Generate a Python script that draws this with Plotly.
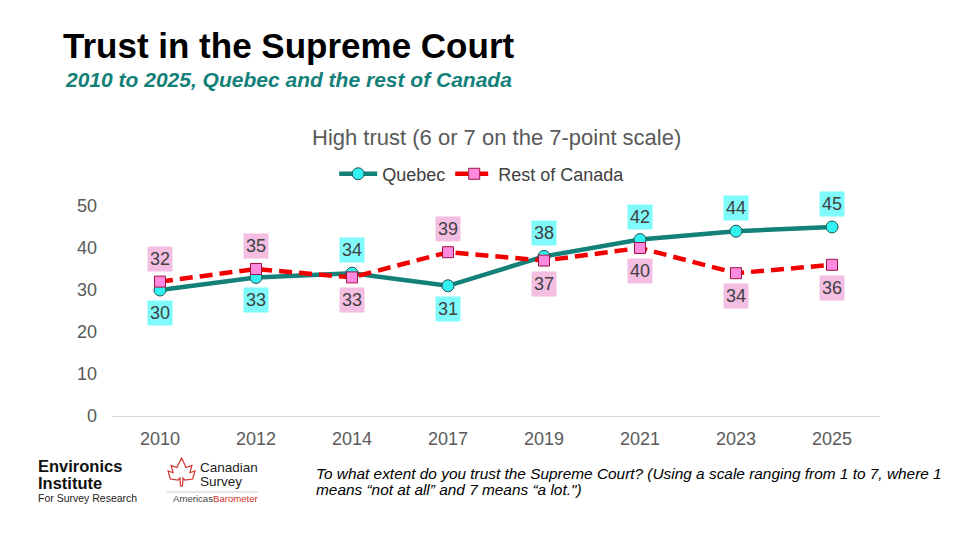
import plotly.graph_objects as go

years = ["2010", "2012", "2014", "2017", "2019", "2021", "2023", "2025"]
quebec = [30, 33, 34, 31, 38, 42, 44, 45]
rest_of_canada = [32, 35, 33, 39, 37, 40, 34, 36]
# label sits above (+1) or below (-1) the point
quebec_side = [-1, -1, 1, -1, 1, 1, 1, 1]
roc_side = [1, 1, -1, 1, -1, -1, -1, -1]
y_ticks = [0, 10, 20, 30, 40, 50]

TEAL = "#138079"
RED = "#F20000"
FONT = "Liberation Sans, Arial, sans-serif"


def note(x, y, text, size, color="black", anchor="left"):
    # helper for free text placed in paper coordinates
    fig.add_annotation(xref="paper", yref="paper", x=x, y=y, xanchor=anchor,
                       yanchor="middle", showarrow=False, text=text,
                       font=dict(size=size, color=color, family=FONT))


fig = go.Figure()

fig.add_trace(go.Scatter(
    x=years, y=quebec, name="Quebec", mode="lines+markers",
    line=dict(color=TEAL, width=4.5),
    marker=dict(symbol="circle", size=12, color="#33F2F2",
                line=dict(color="#1F4F4F", width=1)),
))
fig.add_trace(go.Scatter(
    x=years, y=rest_of_canada, name="Rest of Canada", mode="lines+markers",
    line=dict(color=RED, width=4.5, dash="13px,7px"),
    marker=dict(symbol="square", size=11, color="#FF8ADF",
                line=dict(color="#A01040", width=1)),
))

# data labels in coloured boxes (category axis -> use the category index)
for i, (v, s) in enumerate(zip(quebec, quebec_side)):
    fig.add_annotation(x=i, y=v, text=str(v), showarrow=False,
                       yshift=23 * s, bgcolor="#7FFBFB", borderpad=2,
                       font=dict(size=18, color="#404040", family=FONT))
for i, (v, s) in enumerate(zip(rest_of_canada, roc_side)):
    fig.add_annotation(x=i, y=v, text=str(v), showarrow=False,
                       yshift=23 * s, bgcolor="#F4BEE3", borderpad=2,
                       font=dict(size=18, color="#404040", family=FONT))

# headings
note(-0.066, 1.762, "<b>Trust in the Supreme Court</b>", 35)
note(-0.064, 1.6, "<b><i>2010 to 2025, Quebec and the rest of Canada</i></b>", 21, TEAL)
note(0.5, 1.324, "High trust (6 or 7 on the 7-point scale)", 22, "#595959", "center")

# footer question
note(0.263, -0.276,
     "<i>To what extent do you trust the Supreme Court? (Using a scale ranging from 1 to 7, where 1</i>",
     15.4)
note(0.263, -0.348, "<i>means “not at all” and 7 means “a lot.\")</i>", 15.4)

# logos as text
note(-0.099, -0.236, "<b>Environics</b>", 16.5, "#111111")
note(-0.099, -0.320, "<b>Institute</b>", 16.5, "#111111")
note(-0.099, -0.392, "For Survey Research", 10.5, "#222222")
note(0.112, -0.246, "Canadian", 13.5, "#222222")
note(0.112, -0.312, "Survey", 13.5, "#222222")
note(0.077, -0.395,
     "<span style='color:#444444'>Americas</span><span style='color:#D0312D'>Barometer</span>",
     9.6)
fig.add_shape(type="line", xref="paper", yref="paper", x0=0.0716, x1=0.19,
              y0=-0.362, y1=-0.362, line=dict(color="#cccccc", width=1))
# rough maple leaf outline
fig.add_shape(type="path", xref="paper", yref="paper",
              path="M 0.0905 -0.200 L 0.0965 -0.245 L 0.1040 -0.235 L 0.1015 -0.270 "
                   "L 0.1080 -0.262 L 0.1050 -0.300 L 0.0950 -0.305 L 0.0925 -0.295 "
                   "L 0.0918 -0.333 L 0.0892 -0.333 L 0.0885 -0.295 L 0.0860 -0.305 "
                   "L 0.0760 -0.300 L 0.0730 -0.262 L 0.0795 -0.270 L 0.0770 -0.235 "
                   "L 0.0845 -0.245 Z",
              line=dict(color="#D0312D", width=1.2))

# the page body adds an 8px offset, so margins are shifted to compensate
fig.update_layout(
    width=960, height=540,
    margin=dict(l=104, r=88, t=198, b=132),
    plot_bgcolor="white", paper_bgcolor="white",
    font=dict(family=FONT, color="#595959"),
    showlegend=True,
    legend=dict(orientation="h", x=0.482, xanchor="center", y=1.152, yanchor="middle",
                font=dict(size=18, color="#404040", family=FONT), itemwidth=38,
                tracegroupgap=0),
    xaxis=dict(type="category", range=[-0.5, len(years) - 0.5], showgrid=False,
               showline=True, linecolor="#D9D9D9", linewidth=1,
               tickfont=dict(size=18, color="#595959"), ticks="",
               ticklabelstandoff=6, automargin=False),
    yaxis=dict(range=[0, 50], tickvals=y_ticks, showgrid=False, zeroline=False,
               showline=False, tickfont=dict(size=18, color="#595959"),
               ticklabelstandoff=14, automargin=False),
)

fig.write_html("out.html")
